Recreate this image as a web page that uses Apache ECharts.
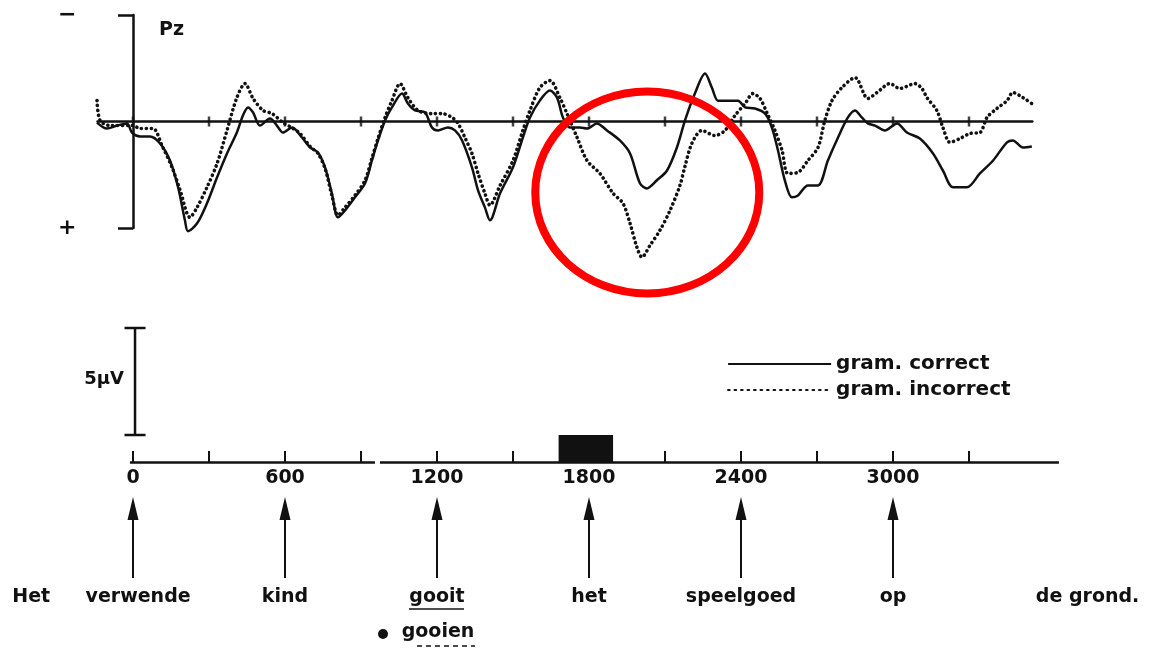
<!DOCTYPE html>
<html>
<head>
<meta charset="utf-8">
<script src="https://cdn.jsdelivr.net/npm/echarts@6/dist/echarts.min.js"></script>
<style>
  html, body { margin: 0; padding: 0; background: #fff; }
  #chart { width: 1149px; height: 648px; }
</style>
</head>
<body>
<div id="chart"></div>
<script>
// Grand-average ERP at Pz, grammatically correct vs. incorrect sentences
// (time in ms from onset of "verwende", amplitude in µV, negative plotted up)
const correctMs = [-142,-103,-63,-24,-4,28,67,107,146,178,205,217,253,292,332,371,410,434,454,474,501,541,568,592,628,667,699,730,758,785,809,837,876,916,943,967,995,1022,1062,1085,1113,1153,1180,1204,1243,1271,1299,1338,1362,1389,1409,1449,1500,1539,1567,1606,1646,1674,1697,1725,1764,1792,1831,1871,1922,1962,2001,2029,2068,2108,2147,2179,2218,2258,2285,2309,2337,2388,2416,2455,2495,2522,2546,2573,2601,2625,2664,2704,2743,2783,2822,2850,2877,2901,2929,2968,3016,3055,3106,3158,3197,3237,3292,3343,3395,3450,3473,3513,3548];
const correctUV = [0.05,0.33,0.19,0.09,0.52,0.70,0.70,1.03,1.83,3.09,4.64,5.15,4.78,3.84,2.62,1.50,0.52,-0.28,-0.66,-0.42,0.19,-0.14,0.19,0.52,0.28,0.75,1.22,1.45,2.15,3.37,4.50,4.17,3.56,2.90,1.83,0.89,-0.05,-0.66,-1.31,-0.84,-0.52,-0.42,0.28,0.42,0.28,0.42,0.89,2.15,3.23,4.03,4.64,3.37,2.15,0.75,-0.19,-0.98,-1.45,-1.12,-0.19,0.28,0.28,0.33,0.09,0.42,0.89,1.50,2.90,3.14,2.76,2.30,1.22,-0.05,-1.31,-2.25,-1.59,-0.98,-0.98,-0.98,-0.66,-0.61,-0.37,0.28,1.36,2.76,3.56,3.47,3.00,3.00,1.83,0.75,-0.19,-0.52,-0.19,0.09,0.19,0.42,0.09,0.52,0.80,1.50,2.30,3.09,3.09,2.44,1.83,0.98,0.89,1.22,1.17];

const incorrectMs = [-142,-130,-91,0,28,79,114,154,186,225,253,292,332,371,410,442,474,513,549,592,628,659,699,730,758,785,809,837,876,916,943,967,995,1022,1054,1085,1125,1180,1220,1259,1283,1310,1338,1362,1389,1409,1449,1500,1539,1567,1606,1646,1685,1713,1753,1792,1843,1895,1934,1962,1989,2009,2041,2080,2120,2159,2179,2206,2246,2297,2337,2376,2416,2447,2475,2502,2534,2562,2585,2625,2664,2704,2731,2759,2798,2850,2901,2937,2988,3027,3087,3114,3134,3173,3197,3225,3264,3304,3343,3371,3410,3450,3473,3513,3548];
const incorrectUV = [-0.98,-0.05,0.19,0.19,0.33,0.33,1.12,2.15,3.23,4.50,4.03,3.09,1.97,0.42,-1.12,-1.78,-1.08,-0.52,-0.37,0.05,0.30,0.56,1.17,1.50,2.20,3.47,4.40,4.03,3.47,2.76,1.73,0.80,-0.19,-0.98,-1.78,-1.12,-0.52,-0.37,-0.37,-0.19,0.09,0.75,1.50,2.44,3.37,3.93,3.00,1.83,0.42,-0.52,-1.59,-1.92,-1.12,-0.37,0.75,1.83,2.44,3.37,3.84,4.78,5.90,6.37,5.81,5.11,4.17,3.00,2.10,1.03,0.42,0.66,0.42,-0.28,-0.84,-1.31,-1.08,-0.42,0.42,1.36,2.44,2.39,1.83,1.22,-0.05,-0.98,-1.59,-2.06,-1.08,-1.36,-1.78,-1.55,-1.78,-1.55,-1.12,-0.52,0.28,0.98,0.80,0.56,0.52,-0.19,-0.61,-0.98,-1.36,-1.12,-0.84];

const seriesNames = ['gram. correct', 'gram. incorrect'];
const baselineTicks = [0,300,600,900,1200,1500,1800,2100,2400,2700,3000,3300];
const timeLabels = [0,600,1200,1800,2400,3000];
const timeAxisBreak = [955, 975];
const timeAxisSpan = [-12, 3655];
const criticalWindow = [1680, 1895];
const scaleBarUV = 5;

const wordLabels = ['Het','verwende','kind','gooit','het','speelgoed','op','de grond.'];
const wordMs     = [-402, 20, 600, 1200, 1800, 2400, 3000, 3768];
const arrowMs    = [0, 600, 1200, 1800, 2400, 3000];
const altWord = 'gooien';
const altWordMs = 1200;

const INK = '#111';
const FONT = 'DejaVu Sans';
const MS_PX = 76 / 300;      // horizontal scale shared by all panels
const ORIGIN_X = 133;         // pixel position of 0 ms
const LAST_TICK = 3300;       // last labelled tick on the time axis

const zip = (xs, ys) => xs.map((x, i) => [x, ys[i]]);

const chart = echarts.init(document.getElementById('chart'), null, { renderer: 'canvas' });

const bold = (size) => ({ color: INK, fontFamily: FONT, fontWeight: 'bold', fontSize: size });

chart.setOption({
  backgroundColor: '#fff',
  animation: false,
  textStyle: { fontFamily: FONT, color: INK },
  grid: [
    { left: ORIGIN_X - 140 * MS_PX, width: 3690 * MS_PX, top: 15, height: 213 },
    { left: ORIGIN_X, width: LAST_TICK * MS_PX, top: 435, height: 27 },
    { left: ORIGIN_X, width: LAST_TICK * MS_PX, top: 328, height: 107 }
  ],
  xAxis: [
    { gridIndex: 0, type: 'value', min: -140, max: 3550,
      axisLine: { show: true, onZero: true, lineStyle: { color: INK, width: 2.5 } },
      axisTick: { show: false }, axisLabel: { show: false }, splitLine: { show: false } },
    { gridIndex: 1, type: 'value', min: 0, max: LAST_TICK, interval: 300,
      axisLine: { show: false },
      axisTick: { show: true, inside: true, length: 11, lineStyle: { color: INK, width: 2 } },
      axisLabel: Object.assign({ margin: 7, formatter: v => timeLabels.includes(v) ? String(v) : '' }, bold(19)),
      splitLine: { show: false } },
    { gridIndex: 2, type: 'value', min: 0, max: LAST_TICK, show: false }
  ],
  yAxis: [
    { gridIndex: 0, type: 'value', min: -5, max: 5, interval: 10, inverse: true,
      axisLine: { show: true, onZero: true, lineStyle: { color: INK, width: 2.5 } },
      axisTick: { show: true, length: 15, lineStyle: { color: INK, width: 2.5 } },
      axisLabel: Object.assign({ margin: 21, formatter: v => v < 0 ? '−' : '+' }, bold(22)),
      splitLine: { show: false } },
    { gridIndex: 1, type: 'value', min: 0, max: 1, show: false },
    { gridIndex: 2, type: 'value', min: 0, max: scaleBarUV, inverse: true, show: false }
  ],
  legend: {
    orient: 'vertical', left: 722, top: 349,
    itemWidth: 103, itemHeight: 20, itemGap: 6,
    textStyle: bold(20),
    selectedMode: false,
    data: [
      { name: seriesNames[0], lineStyle: { width: 2, type: 'solid' }, itemStyle: { opacity: 0 } },
      { name: seriesNames[1], lineStyle: { width: 2.2, type: [1.5, 5], cap: 'round' }, itemStyle: { opacity: 0 } }
    ]
  },
  series: [
    { name: seriesNames[0], type: 'line', xAxisIndex: 0, yAxisIndex: 0,
      data: zip(correctMs, correctUV), symbol: 'none', smooth: 0.3, clip: false, z: 3,
      lineStyle: { color: INK, width: 2.5 }, itemStyle: { color: INK } },
    { name: seriesNames[1], type: 'line', xAxisIndex: 0, yAxisIndex: 0,
      data: zip(incorrectMs, incorrectUV), symbol: 'none', smooth: 0.3, clip: false, z: 4,
      lineStyle: { color: INK, width: 3.6, type: [0.1, 4.8], cap: 'round' }, itemStyle: { color: INK } },
    { name: 'baseline ticks', type: 'scatter', xAxisIndex: 0, yAxisIndex: 0,
      data: baselineTicks.map(t => [t, 0]), symbol: 'rect', symbolSize: [2.5, 10],
      itemStyle: { color: INK }, silent: true, z: 5 },
    { name: 'time axis', type: 'lines', coordinateSystem: 'cartesian2d', xAxisIndex: 1, yAxisIndex: 1,
      clip: false, silent: true,
      data: [
        { coords: [[timeAxisSpan[0], 0], [timeAxisBreak[0], 0]] },
        { coords: [[timeAxisBreak[1], 0], [timeAxisSpan[1], 0]] }
      ],
      lineStyle: { color: INK, width: 2.6, opacity: 1 } },
    { name: 'critical word', type: 'custom', xAxisIndex: 1, yAxisIndex: 1, silent: true,
      data: [criticalWindow],
      renderItem: (params, api) => {
        const a = api.coord([api.value(0), 1]);
        const b = api.coord([api.value(1), 0]);
        return { type: 'rect', shape: { x: a[0], y: a[1], width: b[0] - a[0], height: b[1] - a[1] },
                 style: { fill: INK } };
      } },
    { name: 'scale bar', type: 'line', xAxisIndex: 2, yAxisIndex: 2,
      data: [[8, 0], [8, scaleBarUV]], symbol: 'rect', symbolSize: [21, 2.5], showSymbol: true,
      lineStyle: { color: INK, width: 2.5 }, itemStyle: { color: INK }, silent: true }
  ]
});

// Annotations placed through the axes' own scales
const px = (t) => chart.convertToPixel({ xAxisIndex: 1 }, t);
const elements = [];

elements.push({ type: 'text', left: 159, top: 21, style: { text: 'Pz', font: `bold 19px "${FONT}"`, fill: INK } });

const bar = chart.convertToPixel({ gridIndex: 2 }, [8, scaleBarUV / 2]);
elements.push({ type: 'text', x: bar[0] - 11, y: bar[1] - 2,
  style: { text: '5µV', font: `bold 18px "${FONT}"`, fill: INK, align: 'right', verticalAlign: 'middle' } });

arrowMs.forEach(t => {
  const x = px(t);
  elements.push({ type: 'line', shape: { x1: x, y1: 578, x2: x, y2: 512 }, style: { stroke: INK, lineWidth: 2 } });
  elements.push({ type: 'polygon', shape: { points: [[x, 497], [x - 5.5, 520], [x + 5.5, 520]] }, style: { fill: INK } });
});

wordLabels.forEach((w, i) => {
  elements.push({ type: 'text', x: px(wordMs[i]), y: 597,
    style: { text: w, font: `bold 19px "${FONT}"`, fill: INK, align: 'center', verticalAlign: 'middle' } });
});

const gx = px(wordMs[wordLabels.indexOf('gooit')]);
elements.push({ type: 'line', shape: { x1: gx - 28, y1: 609, x2: gx + 27, y2: 609 }, style: { stroke: INK, lineWidth: 1.6 } });

const ax = px(altWordMs);
elements.push({ type: 'circle', shape: { cx: ax - 54, cy: 634, r: 5 }, style: { fill: INK } });
elements.push({ type: 'text', x: ax + 1, y: 632,
  style: { text: altWord, font: `bold 19px "${FONT}"`, fill: INK, align: 'center', verticalAlign: 'middle' } });
elements.push({ type: 'line', shape: { x1: ax - 20, y1: 646, x2: ax + 38, y2: 646 },
  style: { stroke: INK, lineWidth: 1.6, lineDash: [5, 4] } });

// Highlight around the divergence after "het"
const c = chart.convertToPixel({ gridIndex: 0 }, [2030, 3.33]);
elements.push({ type: 'ellipse', shape: { cx: c[0], cy: c[1], rx: 112, ry: 101 },
  style: { fill: 'none', stroke: '#ff0000', lineWidth: 8 }, z: 100 });

chart.setOption({ graphic: { elements } });
</script>
</body>
</html>
